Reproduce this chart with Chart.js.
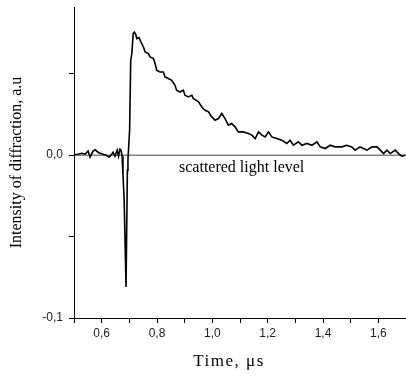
<!DOCTYPE html>
<html>
<head>
<meta charset="utf-8">
<script src="https://cdn.jsdelivr.net/npm/chart.js@4.4.1/dist/chart.umd.min.js"></script>
<style>
  html, body { margin: 0; padding: 0; background: #fff; }
  canvas { display: block; }
</style>
</head>
<body>
<canvas id="c" width="406" height="376"></canvas>
<script>
// Time axis (µs)
const timeValues = [
  0.500, 0.514, 0.529, 0.540, 0.551, 0.558, 0.569, 0.576, 0.587, 0.594,
  0.605, 0.616, 0.627, 0.634, 0.641, 0.648, 0.656, 0.661, 0.666, 0.670,
  0.674, 0.677, 0.681, 0.686, 0.688, 0.691, 0.693, 0.695, 0.701, 0.705,
  0.709, 0.714, 0.718, 0.723, 0.727, 0.735, 0.742, 0.751, 0.757, 0.769,
  0.775, 0.787, 0.793, 0.799, 0.811, 0.823, 0.829, 0.841, 0.853, 0.865,
  0.871, 0.883, 0.895, 0.901, 0.913, 0.926, 0.931, 0.950, 0.962, 0.974,
  0.986, 0.998, 1.010, 1.022, 1.034, 1.046, 1.058, 1.070, 1.082, 1.094,
  1.112, 1.130, 1.143, 1.155, 1.167, 1.179, 1.191, 1.203, 1.215, 1.233,
  1.251, 1.269, 1.281, 1.293, 1.311, 1.324, 1.342, 1.360, 1.378, 1.390,
  1.408, 1.426, 1.444, 1.468, 1.486, 1.504, 1.516, 1.534, 1.546, 1.559,
  1.577, 1.595, 1.607, 1.619, 1.631, 1.643, 1.661, 1.673, 1.685, 1.697
];
// Intensity of diffraction (a.u.)
const intensityValues = [
  0.0004, 0.0006, 0.0012, 0.0006, 0.0026, -0.0012, 0.0025, 0.0033, 0.0018, 0.0012,
  0.0006, 0.0000, -0.0012, 0.0000, 0.0018, -0.0006, 0.0031, -0.0006, 0.0037, 0.0031,
  -0.0006, -0.0123, -0.0258, -0.0640, -0.0810, -0.0810, -0.0092, -0.0030, 0.0153, 0.0583,
  0.0624, 0.0747, 0.0756, 0.0742, 0.0716, 0.0722, 0.0695, 0.0664, 0.0634, 0.0624,
  0.0603, 0.0593, 0.0563, 0.0521, 0.0511, 0.0511, 0.0480, 0.0471, 0.0460, 0.0429,
  0.0399, 0.0388, 0.0399, 0.0368, 0.0358, 0.0368, 0.0348, 0.0327, 0.0296, 0.0276,
  0.0266, 0.0235, 0.0215, 0.0225, 0.0256, 0.0225, 0.0184, 0.0194, 0.0174, 0.0143,
  0.0143, 0.0133, 0.0123, 0.0102, 0.0143, 0.0123, 0.0112, 0.0143, 0.0112, 0.0102,
  0.0092, 0.0072, 0.0092, 0.0061, 0.0082, 0.0061, 0.0072, 0.0061, 0.0082, 0.0051,
  0.0041, 0.0061, 0.0051, 0.0051, 0.0061, 0.0051, 0.0031, 0.0051, 0.0041, 0.0031,
  0.0051, 0.0051, 0.0031, 0.0010, 0.0031, 0.0010, 0.0031, 0.0010, -0.0006, 0.0000
];
// Scattered light level (reference line)
const scatteredLevelTime = [0.5, 1.7];
const scatteredLevelValue = [0, 0];

const xTickValues = [0.6, 0.8, 1.0, 1.2, 1.4, 1.6];
const xTickLabels = ['0,6', '0,8', '1,0', '1,2', '1,4', '1,6'];
const yTickValues = [-0.1, 0.0];
const yTickLabels = ['-0,1', '0,0'];

const xTitle = 'Time, μs';
const yTitle = 'Intensity of diffraction, a.u';
const levelLabel = 'scattered light level';

function pickLabel(vals, labels, v) {
  const i = vals.findIndex(t => Math.abs(t - v) < 1e-6);
  return i >= 0 ? labels[i] : '';
}

const textPlugin = {
  id: 'texts',
  afterDraw(chart) {
    const ctx = chart.ctx;
    const xs = chart.scales.x, ys = chart.scales.y;
    ctx.save();
    ctx.fillStyle = '#000';
    ctx.textAlign = 'center';
    ctx.textBaseline = 'middle';
    ctx.font = '16px "Liberation Serif", "Times New Roman", serif';
    ctx.fillText(levelLabel, xs.getPixelForValue(1.106), ys.getPixelForValue(-0.008));
    ctx.font = '17px "Liberation Serif", "Times New Roman", serif';
    try { ctx.letterSpacing = '1.5px'; } catch (e) {}
    ctx.fillText(xTitle, 229, 362);
    ctx.restore();
  }
};

const serif = '"Liberation Serif", "Times New Roman", serif';
const sans = '"Liberation Sans", Arial, sans-serif';

new Chart(document.getElementById('c'), {
  type: 'line',
  data: {
    datasets: [
      {
        data: timeValues.map((t, i) => ({ x: t, y: intensityValues[i] })),
        borderColor: '#000',
        borderWidth: 1.6,
        pointRadius: 0,
        tension: 0,
        fill: false,
        order: 0
      },
      {
        data: scatteredLevelTime.map((t, i) => ({ x: t, y: scatteredLevelValue[i] })),
        borderColor: '#444',
        borderWidth: 1,
        pointRadius: 0,
        fill: false,
        order: 1
      }
    ]
  },
  options: {
    responsive: false,
    animation: false,
    devicePixelRatio: 1,
    layout: { padding: { top: 7, right: 0, left: 0, bottom: 0 } },
    plugins: { legend: { display: false }, tooltip: { enabled: false }, title: { display: false } },
    scales: {
      x: {
        type: 'linear',
        min: 0.5,
        max: 1.7,
        border: { display: true, color: '#000', width: 1 },
        grid: { display: true, drawOnChartArea: false, drawTicks: true, tickLength: 5, tickColor: '#000' },
        ticks: {
          stepSize: 0.1,
          includeBounds: false,
          autoSkip: false,
          maxRotation: 0,
          padding: 3,
          color: '#222',
          font: { family: sans, size: 12 },
          callback: v => pickLabel(xTickValues, xTickLabels, v)
        },
        title: { display: false },
        afterFit: s => { s.height = 58; s.paddingLeft = 0; s.paddingRight = 0; }
      },
      y: {
        type: 'linear',
        min: -0.1,
        max: 0.091,
        border: { display: true, color: '#000', width: 1 },
        grid: { display: true, drawOnChartArea: false, drawTicks: true, tickLength: 5, tickColor: '#000' },
        ticks: {
          stepSize: 0.05,
          includeBounds: false,
          autoSkip: false,
          padding: 6,
          color: '#222',
          font: { family: sans, size: 12 },
          callback: v => pickLabel(yTickValues, yTickLabels, v)
        },
        title: {
          display: true,
          text: yTitle,
          color: '#000',
          font: { family: serif, size: 16 },
          padding: { top: 7, bottom: 0 }
        },
        afterFit: s => { s.width = 74; s.paddingTop = 0; s.paddingBottom = 0; }
      }
    }
  },
  plugins: [textPlugin]
});
</script>
</body>
</html>
